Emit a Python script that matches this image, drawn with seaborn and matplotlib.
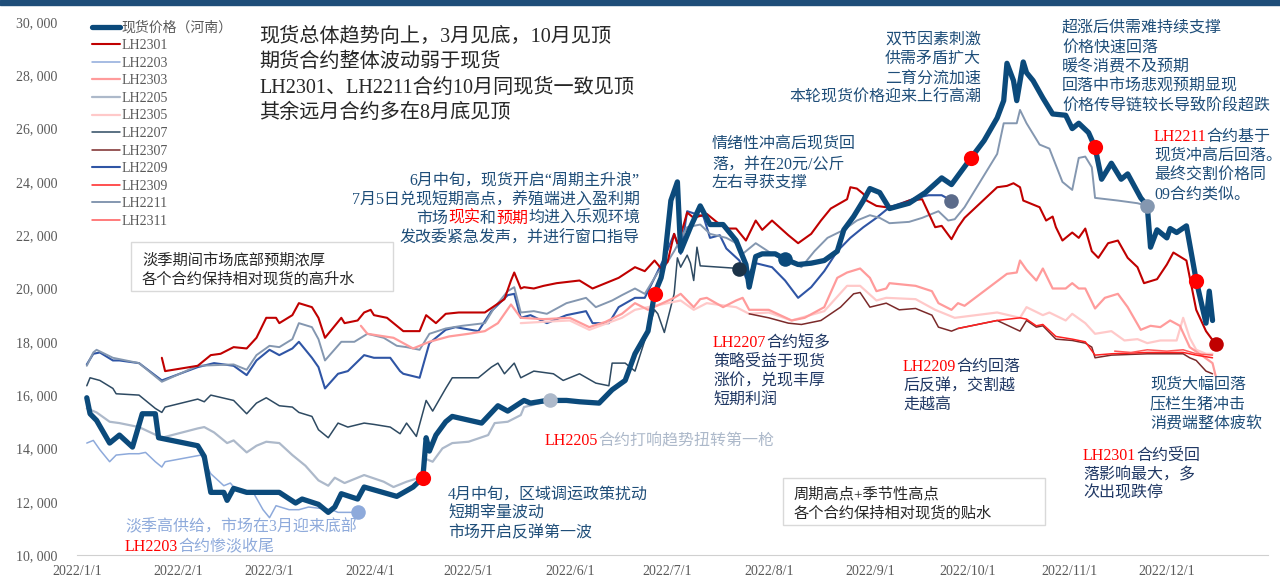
import numpy as np
import pandas as pd
import matplotlib
matplotlib.use("Agg")
import matplotlib.pyplot as plt
import seaborn as sns
from matplotlib.transforms import IdentityTransform
from matplotlib.patches import Rectangle
from matplotlib.ticker import FuncFormatter

# ---- data (yuan/tonne) ----
spot_dates = ["01-04", "01-05", "01-07", "01-11", "01-14", "01-18", "01-21", "01-25", "01-26", "02-07",
              "02-09", "02-11", "02-15", "02-16", "02-18", "02-22", "03-04", "03-09", "03-11", "03-16",
              "03-19", "03-21", "03-23", "03-28", "03-30", "04-09", "04-14", "04-17", "04-18", "04-19",
              "04-21", "04-24", "04-26", "05-05", "05-10", "05-13", "05-18", "05-20", "05-25", "05-31",
              "06-04", "06-10", "06-14", "06-18", "06-21", "06-25", "06-27", "06-29", "06-30", "07-02",
              "07-04", "07-05", "07-08", "07-11", "07-14", "07-18", "07-22", "07-25", "07-26", "07-28",
              "07-30", "08-03", "08-06", "08-10", "08-14", "08-18", "08-22", "08-24", "08-27", "08-30",
              "09-01", "09-04", "09-07", "09-13", "09-18", "09-23", "09-26", "09-29", "10-02", "10-06",
              "10-10", "10-12", "10-13", "10-15", "10-16", "10-18", "10-19", "10-21", "10-24", "10-27",
              "10-31", "11-02", "11-04", "11-07", "11-09", "11-11", "11-14", "11-17", "11-19", "11-23",
              "11-25", "11-26", "11-28", "12-01", "12-02", "12-04", "12-07", "12-10", "12-13", "12-14",
              "12-15"]
spot_vals = [15900, 15300, 15050, 14200, 14500, 14050, 15300, 15300, 14400, 14100,
             13700, 12350, 12350, 12050, 12500, 12350, 12350, 11950, 12100, 11900,
             11600, 11800, 12300, 12100, 12550, 12200, 12550, 12900, 14400, 13900,
             14500, 15000, 15200, 14950, 15600, 15400, 15800, 15700, 15800, 15800,
             15750, 15700, 16200, 16550, 17550, 18400, 19800, 20400, 21000, 23300,
             24000, 21400, 22300, 23100, 22400, 22400, 21800, 20900, 20050, 21200,
             21300, 21300, 21100, 20900, 20950, 21050, 21400, 22200, 22700, 23300,
             23750, 23600, 23000, 23200, 23600, 24150, 23900, 24400, 24900, 25550,
             26400, 27050, 28450, 27800, 27050, 28500, 28100, 27800, 27150, 26550,
             26500, 26000, 26200, 25850, 25300, 24100, 24700, 24100, 24300, 23400,
             23100, 21550, 22200, 21900, 22250, 22100, 22350, 20300, 18700, 19900,
             18800]

lh2301_dates = ["01-27", "01-28", "02-07", "02-11", "02-14", "02-18", "02-22", "02-25", "02-28", "03-03",
                "03-04", "03-08", "03-10", "03-14", "03-16", "03-18", "03-23", "03-24", "03-28", "03-30",
                "04-01", "04-02", "04-06", "04-11", "04-16", "04-18", "04-21", "04-24", "04-28", "05-06",
                "05-09", "05-12", "05-14", "05-15", "05-17", "05-18", "05-21", "05-24", "05-28", "06-04",
                "06-08", "06-14", "06-16", "06-21", "06-24", "06-27", "06-29", "07-01", "07-03", "07-04",
                "07-05", "07-07", "07-09", "07-13", "07-16", "07-19", "07-22", "07-25", "07-28", "07-30",
                "08-02", "08-07", "08-10", "08-14", "08-17", "08-20", "08-25", "08-26", "08-28", "08-30",
                "08-31", "09-03", "09-06", "09-09", "09-13", "09-17", "09-21", "09-23", "09-26", "09-28",
                "09-30", "10-10", "10-13", "10-15", "10-17", "10-18", "10-23", "10-25", "10-27", "10-28",
                "10-30", "11-02", "11-04", "11-06", "11-08", "11-10", "11-13", "11-16", "11-19", "11-22",
                "11-24", "11-28", "12-01", "12-03", "12-07", "12-10", "12-13", "12-16"]
lh2301_vals = [17400, 16900, 17100, 17500, 17550, 17800, 17750, 18150, 18900, 18900,
               18700, 19000, 19450, 19300, 18900, 18150, 18900, 18700, 18800, 19100,
               19200, 19000, 18900, 18400, 18400, 19000, 18700, 19050, 19100, 19100,
               19350, 19600, 20300, 20600, 20000, 20050, 20000, 20100, 20200, 20300,
               20000, 20300, 20400, 20800, 20650, 21050, 20750, 21000, 22050, 21700,
               22000, 22850, 22650, 22800, 22500, 22250, 22250, 21800, 22550, 22200,
               22550, 22000, 21700, 22050, 22550, 23000, 23350, 23800, 23750, 23550,
               23300, 23100, 23050, 23100, 23300, 23350, 22300, 22350, 21850, 22300,
               22650, 23800, 23850, 23950, 23800, 23300, 23050, 22550, 22700, 22300,
               21800, 22100, 21900, 22250, 21400, 21150, 21700, 21800, 21150, 20800,
               20200, 20350, 20900, 21350, 21050, 19200, 18400, 17900]

lh2203_dates = ["01-04", "01-06", "01-08", "01-11", "01-13", "01-17", "01-20", "01-22", "01-25", "01-27",
                "01-28", "02-08", "02-11", "02-15", "02-17", "02-19", "02-24", "02-27", "03-01", "03-03",
                "03-07", "03-10", "03-13", "03-20", "03-22", "03-28"]
lh2203_vals = [14200, 14300, 13950, 13500, 13750, 13800, 13800, 13850, 13500, 13300,
               13500, 13750, 13050, 12600, 12700, 12400, 12350, 11700, 11400, 11850,
               11700, 11700, 11800, 11700, 11600, 11600]

lh2303_dates = ["03-29", "03-31", "04-08", "04-14", "04-19", "04-25", "05-01", "05-06", "05-10", "05-14",
                "05-17", "05-24", "06-01", "06-07", "06-12", "06-17", "06-21", "06-25", "07-03", "07-05",
                "07-09", "07-11", "07-13", "07-18", "07-22", "07-24", "07-26", "08-01", "08-08", "08-12",
                "08-18", "08-22", "08-25", "08-29", "09-01", "09-03", "09-06", "09-07", "09-15", "09-20",
                "09-22", "09-26", "09-28", "09-30", "10-13", "10-16", "10-17", "10-19", "10-22", "10-24",
                "10-27", "10-31", "11-02", "11-04", "11-06", "11-09", "11-12", "11-16", "11-19", "11-23",
                "11-26", "11-29", "12-02", "12-05", "12-08", "12-11", "12-15", "12-16"]
lh2303_vals = [18600, 18300, 18150, 17750, 18000, 18200, 18300, 18400, 18700, 19400,
               18900, 18850, 18900, 18550, 18750, 19050, 19450, 19200, 19650, 19800,
               19300, 19600, 19650, 19300, 19550, 19650, 19200, 19200, 18800, 18900,
               19300, 20400, 20600, 20750, 20400, 19900, 20000, 20200, 20100, 19900,
               19450, 19200, 19450, 19350, 20550, 20600, 21050, 20700, 20300, 20750,
               20000, 20000, 20200, 20000, 20000, 19250, 19650, 19800, 19300, 18450,
               18600, 18550, 18800, 18600, 17800, 17550, 17200, 16700]

lh2205_dates = ["01-04", "01-07", "01-11", "01-14", "01-20", "01-27", "02-07", "02-09", "02-12", "02-16",
                "02-18", "02-22", "02-25", "02-28", "03-04", "03-08", "03-12", "03-16", "03-19", "03-21",
                "03-24", "03-30", "04-05", "04-08", "04-12", "04-16", "04-18", "04-20", "04-23", "04-26",
                "05-01", "05-07", "05-09", "05-13", "05-17", "05-18", "05-26"]
lh2205_vals = [15500, 15350, 15000, 14950, 14800, 14400, 14750, 14800, 14600, 14200,
               14300, 13850, 14100, 14250, 14200, 13750, 13350, 12800, 12600, 12900,
               12700, 13000, 12750, 12550, 12750, 12900, 13600, 13500, 14000, 14200,
               14250, 14500, 14950, 15000, 15250, 15550, 15800]

lh2305_dates = ["05-17", "05-24", "06-01", "06-07", "06-17", "06-21", "07-05", "07-09", "07-13", "07-22",
                "07-26", "08-01", "08-08", "08-18", "08-25", "08-29", "09-03", "09-06", "09-15", "09-21",
                "09-27", "10-10", "10-17", "10-19", "10-24", "10-26", "10-31", "11-02", "11-06", "11-09",
                "11-14", "11-18", "11-22", "11-25", "11-29", "12-04", "12-06", "12-08", "12-10", "12-13",
                "12-15"]
lh2305_vals = [18700, 18750, 18800, 18450, 18900, 19200, 19550, 19200, 19450, 19300,
               19050, 19100, 18800, 19150, 20100, 20100, 19550, 19650, 19600, 19200,
               18900, 19100, 18900, 19300, 19000, 19100, 18800, 19050, 18700, 18300,
               18400, 18050, 18100, 17950, 18050, 18050, 18900, 18150, 17700, 17550,
               17550]

lh2207_dates = ["01-04", "01-05", "01-08", "01-12", "01-13", "01-20", "01-25", "01-27", "01-28", "02-07",
                "02-09", "02-11", "02-18", "02-22", "02-25", "02-28", "03-04", "03-08", "03-10", "03-14",
                "03-16", "03-19", "03-22", "03-25", "03-30", "04-02", "04-07", "04-10", "04-12", "04-15",
                "04-18", "04-20", "04-24", "04-26", "05-04", "05-08", "05-10", "05-12", "05-15", "05-17",
                "05-21", "05-27", "05-30", "06-04", "06-09", "06-13", "06-14", "06-18", "06-21", "06-24",
                "06-27", "06-28", "06-30", "07-03", "07-04", "07-05", "07-07", "07-08", "07-09", "07-10",
                "07-11", "07-23"]
lh2207_vals = [16350, 16650, 16550, 16250, 16050, 16000, 15500, 15350, 15550, 15850,
               15750, 16000, 15800, 15300, 15700, 15900, 15600, 15550, 15350, 15200,
               14700, 14400, 14950, 14800, 14950, 14900, 14800, 14550, 14950, 14450,
               15800, 15400, 16250, 16650, 16650, 17050, 17200, 16800, 17200, 16650,
               16900, 16800, 16550, 16800, 16450, 16350, 17200, 17200, 16900, 18050,
               19200, 19050, 18350, 19800, 21150, 20800, 21250, 20950, 20300, 21550,
               20850, 20750]

lh2307_dates = ["07-26", "08-01", "08-07", "08-11", "08-17", "08-23", "08-27", "08-29", "09-01", "09-06",
                "09-10", "09-15", "09-20", "09-22", "09-26", "09-28", "10-10", "10-17", "10-19", "10-22",
                "10-24", "10-28", "11-02", "11-06", "11-08", "11-09", "11-14", "11-25", "12-06", "12-08",
                "12-10", "12-13", "12-15"]
lh2307_vals = [19050, 18900, 18700, 18650, 18800, 19300, 19800, 19850, 19300, 19450,
               19200, 19250, 19000, 18550, 18400, 18500, 18800, 18400, 18800, 18550,
               18600, 18100, 18050, 17950, 17800, 17400, 17500, 17550, 17550, 17400,
               17300, 16900, 16800]

lh2209_dates = ["01-04", "01-06", "01-08", "01-12", "01-14", "01-20", "01-27", "02-07", "02-12", "02-18",
                "02-22", "02-25", "03-01", "03-04", "03-08", "03-10", "03-14", "03-16", "03-18", "03-22",
                "03-25", "03-30", "04-02", "04-07", "04-10", "04-11", "04-16", "04-19", "04-24", "04-27",
                "05-04", "05-08", "05-13", "05-15", "05-17", "05-20", "05-25", "05-31", "06-06", "06-08",
                "06-13", "06-16", "06-21", "06-24", "06-27", "06-30", "07-03", "07-05", "07-07", "07-12",
                "07-14", "07-17", "07-19", "07-23", "07-25", "07-28", "08-02", "08-06", "08-10", "08-14",
                "08-18", "08-22", "08-26", "08-30", "09-03", "09-07", "09-13", "09-15", "09-19", "09-23",
                "09-26"]
lh2209_vals = [17150, 17550, 17600, 17300, 17300, 17200, 16550, 17050, 17200, 17100,
               16750, 17300, 17700, 17500, 17750, 18000, 17400, 17050, 16250, 16800,
               16900, 17500, 17400, 17400, 16900, 16800, 16650, 17950, 18450, 18550,
               18400, 19150, 19750, 19800, 18900, 19000, 18700, 19000, 19150, 18700,
               18700, 19300, 19650, 19650, 20400, 21150, 22050, 21300, 22900, 22700,
               21900, 22000, 21500, 21050, 20400, 20950, 20800, 20300, 19650, 20050,
               20650, 21400, 21900, 22300, 22650, 23050, 23300, 23400, 23500, 23500,
               23300]

lh2309_dates = ["09-28", "10-10", "10-17", "10-19", "10-22", "10-24", "10-28", "11-02", "11-06", "11-09",
                "11-14", "11-25", "12-06", "12-10", "12-15"]
lh2309_vals = [18500, 18800, 18900, 18850, 18600, 18650, 18200, 18100, 18000, 17500,
               17550, 17600, 17600, 17500, 17400]

lh2211_dates = ["01-04", "01-06", "01-07", "01-12", "01-20", "01-27", "02-07", "02-18", "02-22", "02-25",
                "03-01", "03-04", "03-08", "03-10", "03-14", "03-16", "03-18", "03-23", "03-27", "03-31",
                "04-05", "04-09", "04-12", "04-16", "04-19", "04-24", "04-29", "05-06", "05-09", "05-13",
                "05-15", "05-17", "05-21", "05-25", "05-31", "06-06", "06-09", "06-14", "06-17", "06-21",
                "06-24", "06-28", "06-30", "07-03", "07-07", "07-11", "07-14", "07-19", "07-22", "07-24",
                "07-28", "08-02", "08-07", "08-11", "08-15", "08-19", "08-24", "08-28", "09-01", "09-04",
                "09-07", "09-13", "09-17", "09-22", "09-25", "09-27", "09-30", "10-10", "10-12", "10-16",
                "10-17", "10-19", "10-23", "10-26", "10-30", "11-02", "11-04", "11-06", "11-08", "11-09",
                "11-16", "11-22", "11-25"]
lh2211_vals = [17100, 17600, 17700, 17400, 17200, 16500, 17100, 17150, 16950, 17500,
               17850, 17800, 18100, 18700, 18550, 18100, 17300, 18000, 18000, 18300,
               18150, 17850, 17800, 17700, 18300, 18500, 18600, 18700, 19300, 19900,
               20050, 19100, 19150, 19050, 19450, 19650, 19300, 19550, 19750, 20000,
               19800, 20600, 20800, 21400, 22300, 22400, 22050, 21900, 21700, 21300,
               21700, 21300, 21050, 20800, 21400, 21900, 22200, 22550, 22750, 22650,
               22450, 22500, 22650, 22900, 22550, 22600, 23050, 25050, 26200, 26200,
               26700, 26200, 25400, 25250, 24000, 23700, 24900, 24950, 24550, 23400,
               23300, 23200, 23100]

lh2311_dates = ["11-15", "11-20", "11-25", "12-01", "12-06", "12-10", "12-15"]
lh2311_vals = [17650, 17600, 17700, 17650, 17700, 17550, 17500]

spot_red_marks = ["04-17", "06-27", "10-02", "11-09", "12-10"]
spot_navy_marks = ["08-06"]

W, H = 1280, 586
SPOT = "#0b4a7b"
NOTE = "#1f4e79"
DARK = "#203864"
RED = "#ff0000"


def to_df(dates, vals):
    return pd.DataFrame({"date": pd.to_datetime(["2022-" + d for d in dates]), "price": vals})


sns.set_style("white")
plt.rcParams["font.family"] = ["Liberation Serif", "Noto Sans CJK SC"]

fig = plt.figure(figsize=(12.8, 5.86), dpi=100)
ax = fig.add_axes([77 / W, 1 - 555 / H, (1268 - 77) / W, (555 - 22) / H])

# label, dates, values, colour, width, end dot colour
series = [
    ("LH2203", lh2203_dates, lh2203_vals, "#8eaadb", 1.1, "#8eaadb"),
    ("LH2205", lh2205_dates, lh2205_vals, "#adb9ca", 1.6, "#adb9ca"),
    ("LH2207", lh2207_dates, lh2207_vals, "#2e4a62", 1.1, "#1c3348"),
    ("LH2209", lh2209_dates, lh2209_vals, "#2f55a5", 1.5, "#5b6b8a"),
    ("LH2211", lh2211_dates, lh2211_vals, "#8497b0", 1.4, "#8497b0"),
    ("LH2305", lh2305_dates, lh2305_vals, "#ffc9c9", 1.6, None),
    ("LH2303", lh2303_dates, lh2303_vals, "#ff9b9b", 1.6, None),
    ("LH2307", lh2307_dates, lh2307_vals, "#7b2a2a", 1.1, None),
    ("LH2309", lh2309_dates, lh2309_vals, "#ff2020", 1.1, None),
    ("LH2311", lh2311_dates, lh2311_vals, "#ff5757", 1.1, None),
    ("LH2301", lh2301_dates, lh2301_vals, "#c00000", 1.5, "#c00000"),
]

for label, d, v, c, lw, dot in series:
    df = to_df(d, v)
    sns.lineplot(data=df, x="date", y="price", ax=ax, color=c, lw=lw, label=label, zorder=2)
    if dot:
        last = df.iloc[-1]
        ax.scatter([last["date"]], [last["price"]], s=110, color=dot, zorder=5, linewidths=0)

spot = to_df(spot_dates, spot_vals)
sns.lineplot(data=spot, x="date", y="price", ax=ax, color=SPOT, lw=3.8, label="现货价格（河南）",
             zorder=4, solid_capstyle="round", solid_joinstyle="round")

sidx = spot.set_index("date")["price"]
red_pts = sidx.loc[pd.to_datetime(["2022-" + d for d in spot_red_marks])]
ax.scatter(red_pts.index, red_pts.values, s=120, color="#ff0000", zorder=6, linewidths=0)
navy_pts = sidx.loc[pd.to_datetime(["2022-" + d for d in spot_navy_marks])]
ax.scatter(navy_pts.index, navy_pts.values, s=110, color=SPOT, zorder=6, linewidths=0)

# axes styling
ax.set_xlim(pd.Timestamp("2022-01-01"), pd.Timestamp("2023-01-01"))
ax.set_ylim(10000, 30000)
ax.set_yticks(np.arange(10000, 30001, 2000))
ax.yaxis.set_major_formatter(FuncFormatter(lambda v, p: f"{int(v) // 1000}, {int(v) % 1000:03d}"))
xt = pd.date_range("2022-01-01", "2023-01-01", freq="MS")
ax.set_xticks(xt)
ax.set_xticklabels([f"2022/{t.month}/1" if t.year == 2022 else "" for t in xt])
ax.set_xlabel("")
ax.set_ylabel("")
for s in ["top", "right", "left"]:
    ax.spines[s].set_visible(False)
ax.spines["bottom"].set_color("#d0d0d0")
ax.tick_params(axis="y", length=0, pad=14, labelsize=10, labelcolor="#595959")
ax.tick_params(axis="x", length=4, direction="in", color="#d0d0d0", pad=7, labelsize=10,
               labelcolor="#595959")

handles, labels = ax.get_legend_handles_labels()
order = ["现货价格（河南）", "LH2301", "LH2203", "LH2303", "LH2205", "LH2305", "LH2207",
         "LH2307", "LH2209", "LH2309", "LH2211", "LH2311"]
hmap = dict(zip(labels, handles))
ax.legend([hmap[k] for k in order], order, loc="upper left", bbox_to_anchor=(92 / W, 1 - 21 / H),
          bbox_transform=fig.transFigure, frameon=False, fontsize=10, handlelength=2.0,
          handletextpad=0.15, labelspacing=0.33, borderpad=0, borderaxespad=0, labelcolor="#595959")

# top band
fig.add_artist(Rectangle((0, H - 5), W, 5, transform=IdentityTransform(), color="#1f4e79", zorder=10))

renderer = fig.canvas.get_renderer()


def put(x, y, parts, color=NOTE, size=11.5, ha="left"):
    # x, y: pixels from top-left, y is the line centre
    if isinstance(parts, str):
        parts = [(parts, color)]
    cur = x
    made = []
    for s, c in parts:
        t = fig.text(cur, H - y, s, color=c, fontsize=size, va="center", ha="left",
                     transform=IdentityTransform(), zorder=8)
        cur = t.get_window_extent(renderer).x1
        made.append(t)
    if ha == "right":
        shift = x - cur
        for t in made:
            px, py = t.get_position()
            t.set_position((px + shift, py))


def box(x0, y0, x1, y1):
    fig.add_artist(Rectangle((x0, H - y1), x1 - x0, y1 - y0, transform=IdentityTransform(),
                             facecolor="white", edgecolor="#d9d9d9", lw=1, zorder=7))


# headline block
for i, s in enumerate(["现货总体趋势向上，3月见底，10月见顶", "期货合约整体波动弱于现货",
                       "LH2301、LH2211合约10月同现货一致见顶", "其余远月合约多在8月底见顶"]):
    put(259, 37 + i * 25.5, s, color="#262626", size=14.5)

# boxes
box(131, 242, 393, 291)
put(142, 260, "淡季期间市场底部预期浓厚", color="#262626", size=11)
put(142, 279, "各个合约保持相对现货的高升水", color="#262626", size=11)
box(783, 478, 1045, 525)
put(794, 494, "周期高点+季节性高点", color="#262626", size=11)
put(794, 513, "各个合约保持相对现货的贴水", color="#262626", size=11)

# June note (right aligned)
put(640, 182, "6月中旬，现货开启“周期主升浪”", ha="right")
put(640, 200, "7月5日兑现短期高点，养殖端进入盈利期", ha="right")
put(640, 219, [("市场", NOTE), ("现实", RED), ("和", NOTE), ("预期", RED), ("均进入乐观环境", NOTE)], ha="right")
put(640, 238, "发改委紧急发声，并进行窗口指导", ha="right")

for i, s in enumerate(["情绪性冲高后现货回", "落，并在20元/公斤", "左右寻获支撑"]):
    put(712, 145 + i * 19, s)

for i, s in enumerate(["双节因素刺激", "供需矛盾扩大", "二育分流加速", "本轮现货价格迎来上行高潮"]):
    put(981, 40 + i * 19.3, s, ha="right")

for i, s in enumerate(["超涨后供需难持续支撑", "价格快速回落", "暖冬消费不及预期",
                       "回落中市场悲观预期显现", "价格传导链较长导致阶段超跌"]):
    put(1062, 28 + i * 19.5, s)

put(1154, 137, [("LH2211", RED), ("合约基于", NOTE)])
for i, s in enumerate(["现货冲高后回落。", "最终交割价格同", "09合约类似。"]):
    put(1154, 157 + i * 19, s)

for i, s in enumerate(["现货大幅回落", "压栏生猪冲击", "消费端整体疲软"]):
    put(1150, 385 + i * 19.5, s)

put(1083, 456, [("LH2301", RED), ("合约受回", DARK)])
put(1083, 475, "落影响最大，多", color=DARK)
put(1083, 494, "次出现跌停", color=DARK)

put(903, 367, [("LH2209", RED), ("合约回落", DARK)])
put(903, 386, "后反弹，交割越", color=DARK)
put(903, 405, "走越高", color=DARK)

put(713, 343, [("LH2207", RED), ("合约短多", DARK)])
for i, s in enumerate(["策略受益于现货", "涨价，兑现丰厚", "短期利润"]):
    put(713, 362 + i * 19.5, s, color=DARK)

put(545, 441, [("LH2205", RED), ("合约打响趋势扭转第一枪", "#adb9ca")])

for i, s in enumerate(["4月中旬，区域调运政策扰动", "短期宰量波动", "市场开启反弹第一波"]):
    put(448, 495 + i * 19, s)

put(125, 527, "淡季高供给，市场在3月迎来底部", color="#8eaadb")
put(125, 547, [("LH2203", RED), ("合约惨淡收尾", "#8eaadb")])

fig.savefig("out.png", dpi=100)
